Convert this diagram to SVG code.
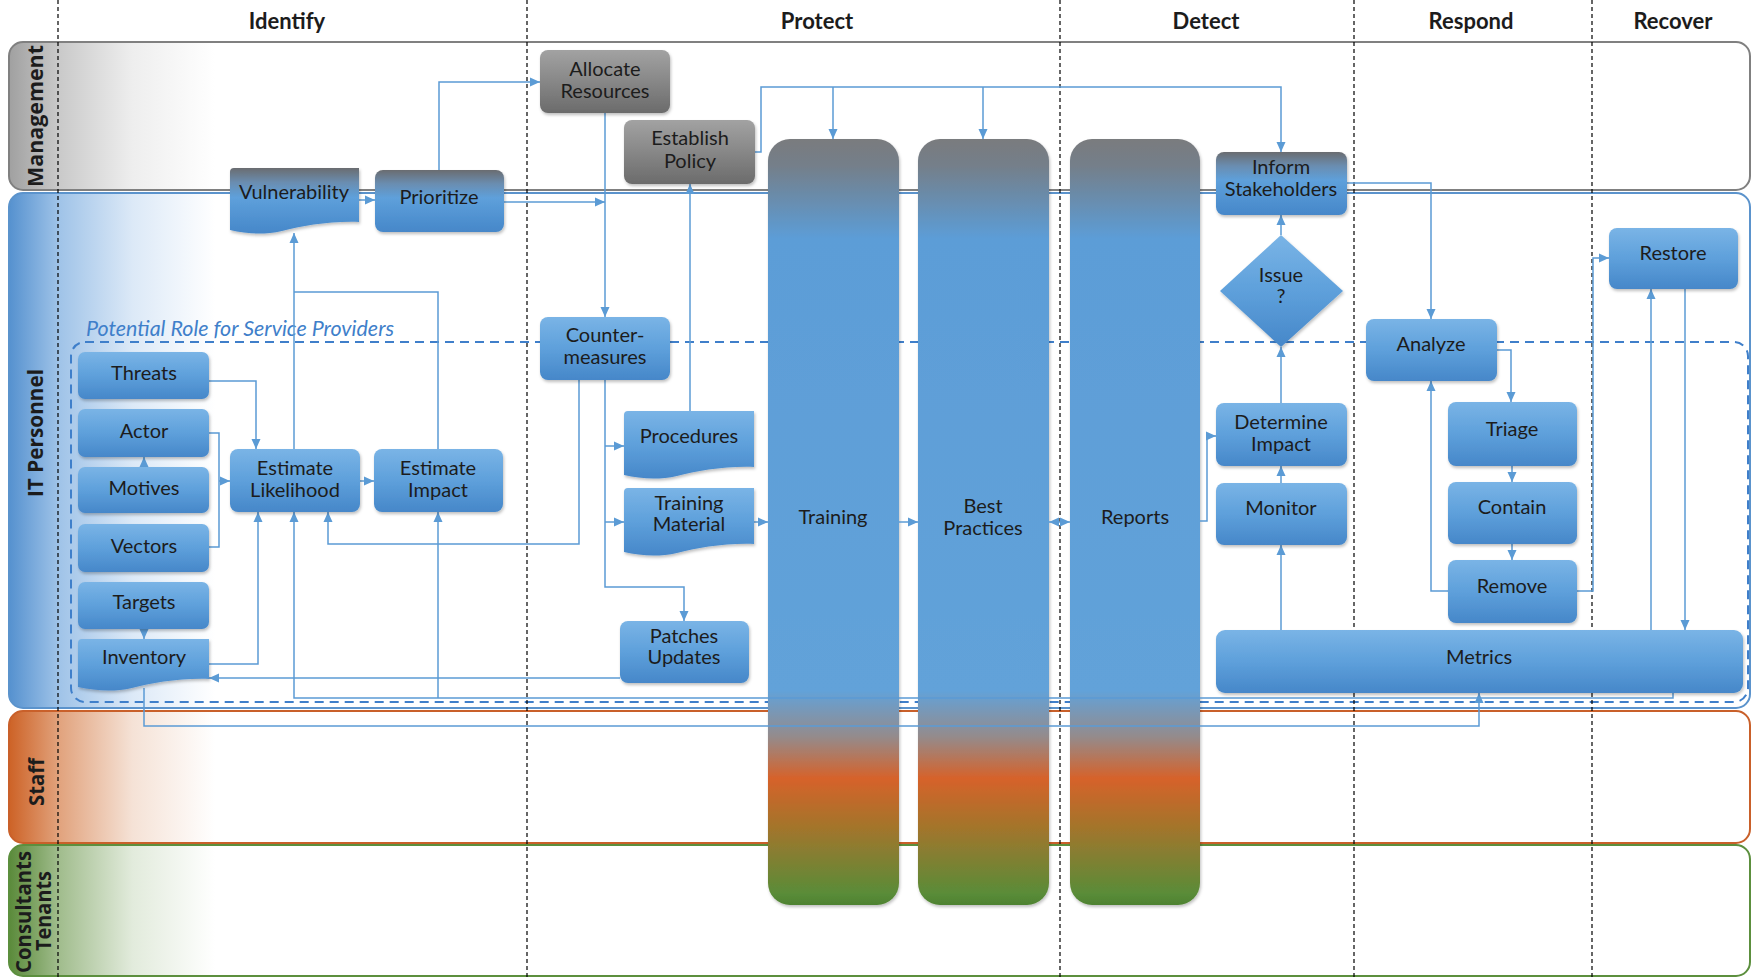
<svg xmlns="http://www.w3.org/2000/svg" width="1752" height="979" viewBox="0 0 1752 979">
<defs>
<style>
.t{font-family:Lato,"Liberation Sans",sans-serif;font-size:20px;fill:#1c1c1c;text-anchor:middle}
.h{font-family:Lato,"Liberation Sans",sans-serif;font-size:22px;font-weight:bold;fill:#1c1c1c;text-anchor:middle}
.ln{font-family:"Open Sans","DejaVu Sans",sans-serif;font-size:21px;font-weight:bold;fill:#1c1c1c;text-anchor:middle}
.c{fill:none;stroke:#5b9bd5;stroke-width:1.5}
.a{marker-end:url(#arr)}
.n{fill:url(#gNode);filter:url(#sh)}
.ng{fill:url(#gGray);filter:url(#sh)}
.nt{fill:url(#gTop);filter:url(#sh)}
.col{fill:url(#gCol);filter:url(#sh)}
.vd{stroke:#000;stroke-width:1.2;stroke-dasharray:4 3}
</style>
<marker id="arr" markerUnits="userSpaceOnUse" markerWidth="10" markerHeight="10" refX="10" refY="5" orient="auto"><path d="M0,0.5 L10,5 L0,9.5 z" fill="#5b9bd5"/></marker>
<marker id="arrS" markerUnits="userSpaceOnUse" markerWidth="10" markerHeight="10" refX="0" refY="5" orient="auto"><path d="M10,0.5 L0,5 L10,9.5 z" fill="#5b9bd5"/></marker>
<filter id="sh" x="-10%" y="-10%" width="120%" height="130%"><feDropShadow dx="1" dy="2" stdDeviation="1.5" flood-color="#000" flood-opacity="0.25"/></filter>
<linearGradient id="gNode" x1="0" y1="0" x2="0" y2="1"><stop offset="0" stop-color="#7ab4e6"/><stop offset="0.5" stop-color="#5ea0db"/><stop offset="1" stop-color="#4687c9"/></linearGradient>
<linearGradient id="gGray" x1="0" y1="0" x2="0" y2="1"><stop offset="0" stop-color="#a2a2a2"/><stop offset="0.45" stop-color="#8a8a8a"/><stop offset="1" stop-color="#6b6b6b"/></linearGradient>
<linearGradient id="gTop" x1="0" y1="0" x2="0" y2="1"><stop offset="0" stop-color="#6a6c70"/><stop offset="0.22" stop-color="#6a8db0"/><stop offset="0.45" stop-color="#5ea0db"/><stop offset="1" stop-color="#4687c9"/></linearGradient>
<linearGradient id="gCol" gradientUnits="userSpaceOnUse" x1="0" y1="139" x2="0" y2="905"><stop offset="0" stop-color="#7a7b7e"/><stop offset="0.035" stop-color="#747f8a"/><stop offset="0.13" stop-color="#5c9dd7"/><stop offset="0.72" stop-color="#62a2d9"/><stop offset="0.78" stop-color="#948b8c"/><stop offset="0.835" stop-color="#d6622a"/><stop offset="0.9" stop-color="#a2752c"/><stop offset="0.985" stop-color="#5a8c38"/><stop offset="1" stop-color="#4e8232"/></linearGradient>
<linearGradient id="gM" gradientUnits="userSpaceOnUse" x1="9" y1="0" x2="215" y2="0"><stop offset="0" stop-color="#a0a0a0"/><stop offset="0.24" stop-color="#c9c9c9"/><stop offset="0.6" stop-color="#eeeeee"/><stop offset="1" stop-color="#ffffff"/></linearGradient>
<linearGradient id="gI" gradientUnits="userSpaceOnUse" x1="9" y1="0" x2="215" y2="0"><stop offset="0" stop-color="#5591cf"/><stop offset="0.24" stop-color="#9fc3e8"/><stop offset="0.6" stop-color="#dce9f7"/><stop offset="1" stop-color="#ffffff"/></linearGradient>
<linearGradient id="gS" gradientUnits="userSpaceOnUse" x1="9" y1="0" x2="215" y2="0"><stop offset="0" stop-color="#cd6226"/><stop offset="0.24" stop-color="#e1a27c"/><stop offset="0.6" stop-color="#f5e2d6"/><stop offset="1" stop-color="#ffffff"/></linearGradient>
<linearGradient id="gC" gradientUnits="userSpaceOnUse" x1="9" y1="0" x2="215" y2="0"><stop offset="0" stop-color="#5a8a3a"/><stop offset="0.24" stop-color="#a0bc8c"/><stop offset="0.6" stop-color="#e2ebdc"/><stop offset="1" stop-color="#ffffff"/></linearGradient>
</defs>
<rect width="1752" height="979" fill="#fff"/>

<g id="lanes">
<rect x="9" y="42" width="1741" height="148" rx="14" fill="url(#gM)" stroke="#808080" stroke-width="2"/>
<rect x="9" y="193" width="1741" height="515" rx="14" fill="url(#gI)" stroke="#5b93cc" stroke-width="2"/>
<rect x="9" y="711" width="1741" height="132" rx="14" fill="url(#gS)" stroke="#c9602a" stroke-width="2"/>
<rect x="9" y="845" width="1741" height="131" rx="14" fill="url(#gC)" stroke="#5c8f3e" stroke-width="2"/>
<text class="ln" transform="translate(43,116) rotate(-90)" textLength="142" lengthAdjust="spacingAndGlyphs">Management</text>
<text class="ln" transform="translate(43,433) rotate(-90)" textLength="128" lengthAdjust="spacingAndGlyphs">IT Personnel</text>
<text class="ln" transform="translate(44,782) rotate(-90)" textLength="48" lengthAdjust="spacingAndGlyphs">Staff</text>
<text class="ln" transform="translate(31,912) rotate(-90)" textLength="122" lengthAdjust="spacingAndGlyphs">Consultants</text>
<text class="ln" transform="translate(51,911) rotate(-90)" textLength="80" lengthAdjust="spacingAndGlyphs">Tenants</text>
</g>

<g id="region">
<rect x="71" y="342" width="1677" height="360" rx="14" fill="none" stroke="#3f7fca" stroke-width="2" stroke-dasharray="9 6"/>
<text x="86" y="336" font-family="Lato,'Liberation Sans',sans-serif" font-style="italic" font-size="21" fill="#3f7fca" textLength="308" lengthAdjust="spacingAndGlyphs">Potential Role for Service Providers</text>
</g>

<g id="phases">
<line class="vd" x1="58" y1="0" x2="58" y2="979"/>
<line class="vd" x1="527" y1="0" x2="527" y2="979"/>
<line class="vd" x1="1060" y1="0" x2="1060" y2="979"/>
<line class="vd" x1="1354" y1="0" x2="1354" y2="979"/>
<line class="vd" x1="1592" y1="0" x2="1592" y2="979"/>
<text class="h" x="287" y="29">Identify</text>
<text class="h" x="817" y="29">Protect</text>
<text class="h" x="1206" y="29">Detect</text>
<text class="h" x="1471" y="29">Respond</text>
<text class="h" x="1673" y="29">Recover</text>
</g>

<g id="training"><rect class="col" x="768" y="139" width="131" height="766" rx="22"/><text class="t" x="833" y="524">Training</text></g>
<g id="best-practices"><rect class="col" x="918" y="139" width="131" height="766" rx="22"/><text class="t" x="983" y="513">Best</text><text class="t" x="983" y="535">Practices</text></g>
<g id="reports"><rect class="col" x="1070" y="139" width="130" height="766" rx="22"/><text class="t" x="1135" y="524">Reports</text></g>

<g id="connectors">
<path class="c a" d="M359,200 H375"/>
<path class="c a" d="M439,170 V82 H540"/>
<path class="c a" d="M504,202 H605"/>
<path class="c a" d="M605,113 V317"/>
<path class="c a" d="M755,152 H761 V87 H1281 V152"/>
<path class="c a" d="M833,87 V139"/>
<path class="c a" d="M983,87 V139"/>
<path class="c a" d="M690,411 V184"/>
<path class="c a" d="M605,380 V587 H684 V621"/>
<path class="c a" d="M605,446 H624"/>
<path class="c a" d="M605,522 H624"/>
<path class="c a" d="M579,380 V544 H328 V512"/>
<path class="c a" d="M754,522 H768"/>
<path class="c a" d="M899,522 H918"/>
<path class="c a" d="M1049,522 H1070" marker-start="url(#arrS)"/>
<path class="c a" d="M1200,521 H1207 V436 H1216"/>
<path class="c a" d="M209,381 H256 V449"/>
<path class="c" d="M209,433 H219 V547 H209"/>
<path class="c a" d="M219,481 H230"/>
<path class="c a" d="M144,467 V457"/>
<path class="c a" d="M144,629 V639"/>
<path class="c a" d="M209,664 H258 V512"/>
<path class="c a" d="M360,481 H374"/>
<path class="c a" d="M294,449 V233"/>
<path class="c" d="M438,449 V292 H294"/>
<path class="c a" d="M1673,693 V698 H294 V512"/>
<path class="c a" d="M438,698 V512"/>
<path class="c a" d="M620,678 H209"/>
<path class="c a" d="M144,688 V726 H1479 V693"/>
<path class="c a" d="M1281,235 V215"/>
<path class="c a" d="M1281,403 V347"/>
<path class="c a" d="M1281,483 V466"/>
<path class="c a" d="M1281,630 V545"/>
<path class="c a" d="M1347,183 H1431 V319"/>
<path class="c a" d="M1497,350 H1511 V402"/>
<path class="c a" d="M1512,466 V482"/>
<path class="c a" d="M1512,544 V560"/>
<path class="c a" d="M1448,591 H1431 V381"/>
<path class="c a" d="M1577,591 H1593 V258 H1609"/>
<path class="c a" d="M1651,630 V289"/>
<path class="c a" d="M1685,289 V630"/>
</g>

<g id="allocate-resources"><rect class="ng" x="540" y="50" width="130" height="63" rx="8"/><text class="t" x="605" y="76">Allocate</text><text class="t" x="605" y="98">Resources</text></g>
<g id="establish-policy"><rect class="ng" x="624" y="120" width="131" height="64" rx="8"/><text class="t" x="690" y="145">Establish</text><text class="t" x="690" y="168">Policy</text></g>
<g id="vulnerability"><path class="nt" d="M230,172 Q230,168 234,168 H359 V222 C330,221 302,226 282,231 C264,235 246,234 230,230 Z"/><text class="t" x="294" y="199">Vulnerability</text></g>
<g id="prioritize"><rect class="nt" x="375" y="170" width="129" height="62" rx="8"/><text class="t" x="439" y="204">Prioritize</text></g>
<g id="threats"><rect class="n" x="78" y="352" width="131" height="47" rx="7"/><text class="t" x="144" y="380">Threats</text></g>
<g id="actor"><rect class="n" x="78" y="409" width="131" height="48" rx="7"/><text class="t" x="144" y="438">Actor</text></g>
<g id="motives"><rect class="n" x="78" y="467" width="131" height="46" rx="7"/><text class="t" x="144" y="495">Motives</text></g>
<g id="vectors"><rect class="n" x="78" y="524" width="131" height="48" rx="7"/><text class="t" x="144" y="553">Vectors</text></g>
<g id="targets"><rect class="n" x="78" y="582" width="131" height="47" rx="7"/><text class="t" x="144" y="609">Targets</text></g>
<g id="inventory"><path class="n" d="M78,643 Q78,639 82,639 H209 V679 C180,678 152,683 132,688 C114,692 96,691 78,687 Z"/><text class="t" x="144" y="664">Inventory</text></g>
<g id="estimate-likelihood"><rect class="n" x="230" y="449" width="130" height="63" rx="8"/><text class="t" x="295" y="475">Estimate</text><text class="t" x="295" y="497">Likelihood</text></g>
<g id="estimate-impact"><rect class="n" x="374" y="449" width="129" height="63" rx="8"/><text class="t" x="438" y="475">Estimate</text><text class="t" x="438" y="497">Impact</text></g>
<g id="countermeasures"><rect class="n" x="540" y="317" width="130" height="63" rx="8"/><text class="t" x="605" y="342">Counter-</text><text class="t" x="605" y="364">measures</text></g>
<g id="procedures"><path class="n" d="M624,415 Q624,411 628,411 H754 V467 C725,466 697,471 677,476 C659,480 641,479 624,475 Z"/><text class="t" x="689" y="443">Procedures</text></g>
<g id="training-material"><path class="n" d="M624,492 Q624,488 628,488 H754 V544 C725,543 697,548 677,553 C659,557 641,556 624,552 Z"/><text class="t" x="689" y="510">Training</text><text class="t" x="689" y="531">Material</text></g>
<g id="patches-updates"><rect class="n" x="620" y="621" width="129" height="62" rx="8"/><text class="t" x="684" y="643">Patches</text><text class="t" x="684" y="664">Updates</text></g>
<g id="inform-stakeholders"><rect class="nt" x="1216" y="152" width="131" height="63" rx="8"/><text class="t" x="1281" y="174">Inform</text><text class="t" x="1281" y="196">Stakeholders</text></g>
<g id="issue"><polygon class="n" points="1281,235 1343,291 1281,347 1220,291"/><text class="t" x="1281" y="282">Issue</text><text class="t" x="1281" y="303">?</text></g>
<g id="determine-impact"><rect class="n" x="1216" y="403" width="131" height="63" rx="8"/><text class="t" x="1281" y="429">Determine</text><text class="t" x="1281" y="451">Impact</text></g>
<g id="monitor"><rect class="n" x="1216" y="483" width="131" height="62" rx="8"/><text class="t" x="1281" y="515">Monitor</text></g>
<g id="metrics"><rect class="n" x="1216" y="630" width="527" height="63" rx="9"/><text class="t" x="1479" y="664">Metrics</text></g>
<g id="analyze"><rect class="n" x="1366" y="319" width="131" height="62" rx="8"/><text class="t" x="1431" y="351">Analyze</text></g>
<g id="triage"><rect class="n" x="1448" y="402" width="129" height="64" rx="8"/><text class="t" x="1512" y="436">Triage</text></g>
<g id="contain"><rect class="n" x="1448" y="482" width="129" height="62" rx="8"/><text class="t" x="1512" y="514">Contain</text></g>
<g id="remove"><rect class="n" x="1448" y="560" width="129" height="63" rx="8"/><text class="t" x="1512" y="593">Remove</text></g>
<g id="restore"><rect class="n" x="1609" y="228" width="129" height="61" rx="8"/><text class="t" x="1673" y="260">Restore</text></g>
</svg>
